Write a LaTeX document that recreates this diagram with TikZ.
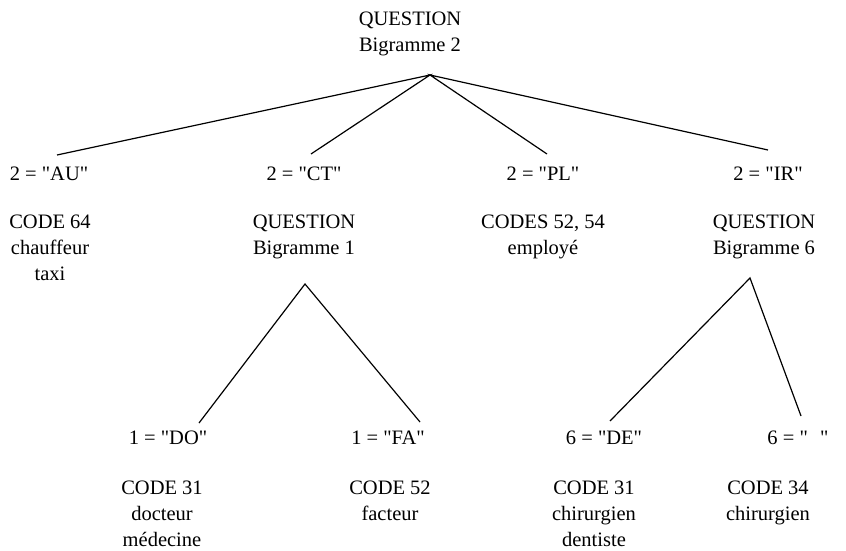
\documentclass[tikz,border=0pt]{standalone}
\usepackage{fontspec}
\setmainfont{Liberation Serif}[Ligatures=TeXOff]
\newcommand\myqm{\symbol{34}}
\begin{document}
\begin{tikzpicture}[x=1pt,y=-1pt,
  txt/.style={inner sep=0pt,align=center,anchor=north,font=\fontsize{20.5}{26}\selectfont},
  edge/.style={line width=1.2pt,black}]
\useasboundingbox (0,0) rectangle (846,551);
% top question
\node[txt] (q0) at (410,12) {QUESTION\\Bigramme 2};
\coordinate (a0) at (430,75);
% level 1 labels
\node[txt] (l1a) at (49,167) {2 = \myqm AU\myqm};
\node[txt] (l1b) at (304,167) {2 = \myqm CT\myqm};
\node[txt] (l1c) at (543,167) {2 = \myqm PL\myqm};
\node[txt] (l1d) at (768,167) {2 = \myqm IR\myqm};
\coordinate (e1a) at (57,155);
\coordinate (e1b) at (311,154);
\coordinate (e1c) at (547,154);
\coordinate (e1d) at (768,150);
% level 1 content
\node[txt] (c1a) at (50,215) {CODE 64\\chauffeur\\taxi};
\node[txt] (q1) at (304,215) {QUESTION\\Bigramme 1};
\node[txt] (c1c) at (543,215) {CODES 52, 54\\employé};
\node[txt] (q6) at (764,215) {QUESTION\\Bigramme 6};
\coordinate (a1) at (305,284);
\coordinate (a6) at (750,278);
% level 2 labels
\node[txt] (l2a) at (168,431) {1 = \myqm DO\myqm};
\node[txt] (l2b) at (388,431) {1 = \myqm FA\myqm};
\node[txt] (l2c) at (604,431) {6 = \myqm DE\myqm};
\node[txt] (l2d) at (798,431) {6 = \myqm\hspace{0.6em}\myqm};
\coordinate (e2a) at (199,423);
\coordinate (e2b) at (420,422);
\coordinate (e2c) at (610,421);
\coordinate (e2d) at (801,416);
% level 2 content
\node[txt] (c2a) at (162,481) {CODE 31\\docteur\\médecine};
\node[txt] (c2b) at (390,481) {CODE 52\\facteur};
\node[txt] (c2c) at (594,481) {CODE 31\\chirurgien\\dentiste};
\node[txt] (c2d) at (768,481) {CODE 34\\chirurgien};
% edges
\draw[edge] (e1a) -- (a0) -- (e1b);
\draw[edge] (e1c) -- (a0) -- (e1d);
\draw[edge] (e2a) -- (a1) -- (e2b);
\draw[edge] (e2c) -- (a6) -- (e2d);
\end{tikzpicture}
\end{document}
